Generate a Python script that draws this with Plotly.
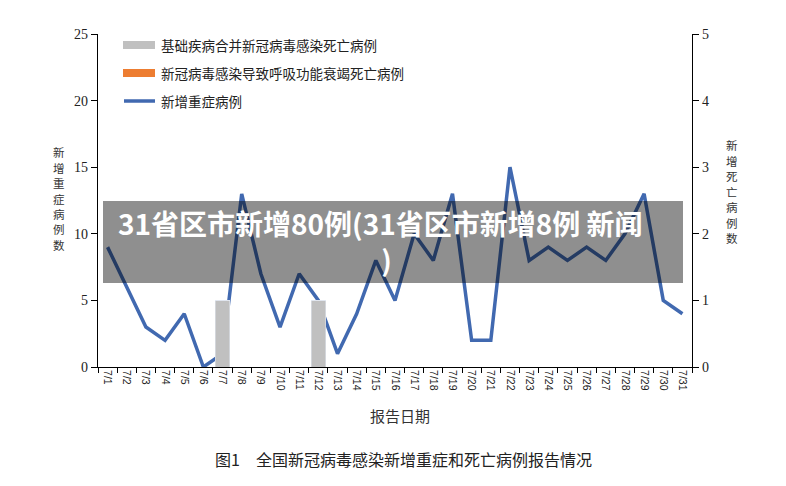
import plotly.graph_objects as go

dates = [f"7/{d}" for d in range(1, 32)]
severe_cases = [9, 6, 3, 2, 4, 0, 1, 13, 7, 3, 7, 5, 1, 4, 8, 5, 10, 8, 13, 2, 2, 15, 8, 9, 8, 9, 8, 10, 13, 5, 4]
deaths_underlying = [0, 0, 0, 0, 0, 0, 1, 0, 0, 0, 0, 1, 0, 0, 0, 0, 0, 0, 0, 0, 0, 0, 0, 0, 0, 0, 0, 0, 0, 0, 0]
deaths_respiratory = [0] * 31

name_bar1 = "基础疾病合并新冠病毒感染死亡病例"
name_bar2 = "新冠病毒感染导致呼吸功能衰竭死亡病例"
name_line = "新增重症病例"
left_title = "新增重症病例数"
right_title = "新增死亡病例数"
x_title = "报告日期"
caption = "图1　全国新冠病毒感染新增重症和死亡病例报告情况"
banner = "31省区市新增80例(31省区市新增8例 新闻\u00a0\u00a0<br>)"

C_BAR1 = "#C0C0C0"
C_BAR2 = "#ED7D31"
C_LINE = "#4169B0"

serif = "Liberation Serif, Noto Sans CJK SC, serif"
cjk = "Noto Sans CJK SC, sans-serif"

# figure placed at (8,8) by page body margin
W, H = 778, 478
ML, MR, MT, MB = 90, 94, 26, 119
PW, PH = W - ML - MR, H - MT - MB


def px(xs):  # screen x -> paper
    return (xs - 8 - ML) / PW


def py(ys):  # screen y -> paper
    return (H - MB - (ys - 8)) / PH


fig = go.Figure()
fig.add_trace(go.Bar(x=dates, y=deaths_underlying, name=name_bar1, marker_color=C_BAR1,
                     yaxis="y2", width=0.76))
fig.add_trace(go.Bar(x=dates, y=deaths_respiratory, name=name_bar2, marker_color=C_BAR2,
                     yaxis="y2", width=0.76))
fig.add_trace(go.Scatter(x=dates, y=severe_cases, name=name_line, mode="lines",
                         line=dict(color=C_LINE, width=3.5)))

fig.update_layout(
    width=W, height=H,
    margin=dict(l=ML, r=MR, t=MT, b=MB),
    plot_bgcolor="white", paper_bgcolor="white",
    barmode="stack", showlegend=False,
    xaxis=dict(type="category", range=[-0.5, 30.5], showline=True, linecolor="black", linewidth=1,
               ticks="outside", tickson="boundaries", ticklen=5, tickcolor="black",
               tickangle=90, tickfont=dict(family="Liberation Sans, sans-serif", size=10.5, color="#222"),
               showgrid=False, zeroline=False),
    yaxis=dict(range=[0, 25], dtick=5, showline=True, linecolor="black", linewidth=1.3,
               ticks="outside", ticklen=6, tickcolor="black", showgrid=False, zeroline=False,
               tickfont=dict(family=serif, size=14, color="#222")),
    yaxis2=dict(range=[0, 5], dtick=1, overlaying="y", side="right", showline=True,
                linecolor="black", linewidth=1.3, ticks="outside", ticklen=6, tickcolor="black",
                showgrid=False, zeroline=False, tickfont=dict(family=serif, size=14, color="#222")),
)

# custom legend
legend_rows = [(45, name_bar1, C_BAR1, "rect"), (73, name_bar2, C_BAR2, "rect"), (101, name_line, C_LINE, "line")]
for ys, label, col, kind in legend_rows:
    if kind == "rect":
        fig.add_shape(type="rect", xref="paper", yref="paper", x0=px(123), x1=px(155),
                      y0=py(ys + 4), y1=py(ys - 4), fillcolor=col, line_width=0)
    else:
        fig.add_shape(type="line", xref="paper", yref="paper", x0=px(124), x1=px(155),
                      y0=py(ys), y1=py(ys), line=dict(color=col, width=3.5))
    fig.add_annotation(text=label, xref="paper", yref="paper", x=px(159), y=py(ys),
                       xanchor="left", yanchor="middle", showarrow=False,
                       font=dict(family=cjk, size=13.5, color="#222"))

# vertical axis titles (stacked characters)
for i, ch in enumerate(left_title):
    fig.add_annotation(text=ch, xref="paper", yref="paper", x=px(59), y=py(152 + 15.5 * i),
                       xanchor="center", yanchor="middle", showarrow=False, borderpad=0,
                       font=dict(family=cjk, size=11.5, color="#333"))
for i, ch in enumerate(right_title):
    fig.add_annotation(text=ch, xref="paper", yref="paper", x=px(732), y=py(145 + 15.5 * i),
                       xanchor="center", yanchor="middle", showarrow=False, borderpad=0,
                       font=dict(family=cjk, size=11.5, color="#333"))

fig.add_annotation(text=x_title, xref="paper", yref="paper", x=px(400), y=py(416),
                   xanchor="center", yanchor="middle", showarrow=False,
                   font=dict(family=cjk, size=15, color="#333"))
fig.add_annotation(text=caption, xref="paper", yref="paper", x=px(403), y=py(459),
                   xanchor="center", yanchor="middle", showarrow=False,
                   font=dict(family=cjk, size=16, color="#222"))

# overlay banner
fig.add_shape(type="rect", xref="paper", yref="paper", x0=px(103), x1=px(683),
              y0=py(283), y1=py(201), fillcolor="rgba(0,0,0,0.44)",
              line_width=0, layer="above")
fig.add_annotation(text=banner, xref="paper", yref="paper", x=px(386), y=py(241),
                   xanchor="center", yanchor="middle", showarrow=False, align="center",
                   font=dict(family=cjk, size=28, color="white", weight="bold"))

fig.write_html("out.html")
